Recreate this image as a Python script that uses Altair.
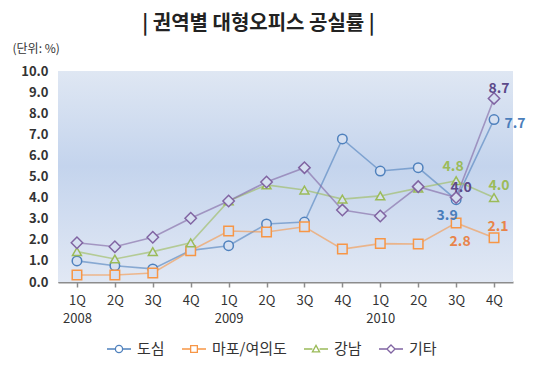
import altair as alt
import pandas as pd

quarters = ["1Q", "2Q", "3Q", "4Q"] * 3
years = ["2008"] * 4 + ["2009"] * 4 + ["2010"] * 4
series_names = ["도심", "마포/여의도", "강남", "기타"]
dosim = [1.0, 0.77, 0.62, 1.5, 1.72, 2.75, 2.84, 6.78, 5.26, 5.42, 3.9, 7.7]
mapo = [0.33, 0.33, 0.43, 1.48, 2.42, 2.37, 2.62, 1.56, 1.82, 1.8, 2.8, 2.1]
gangnam = [1.44, 1.09, 1.44, 1.86, 3.84, 4.6, 4.36, 3.93, 4.08, 4.45, 4.8, 4.0]
gita = [1.86, 1.67, 2.12, 3.02, 3.84, 4.74, 5.42, 3.41, 3.13, 4.52, 4.0, 8.7]
values = [dosim, mapo, gangnam, gita]

colors = ["#4f81bd", "#f79646", "#9bbb59", "#8064a2"]
label_colors = ["#4a7ebb", "#e8844a", "#9bbb59", "#5c4a8a"]
shapes = ["circle", "square", "triangle-up", "diamond"]
legend_paths = [
    "M-1,0 L-0.3,0 M0.3,0 L1,0 M-0.3,0 A0.3,0.3 0 1,0 0.3,0 A0.3,0.3 0 1,0 -0.3,0",
    "M-1,0 L-0.28,0 M0.28,0 L1,0 M-0.28,-0.28 L0.28,-0.28 L0.28,0.28 L-0.28,0.28 Z",
    "M-1,0 L-0.3,0 M0.3,0 L1,0 M0,-0.3 L0.3,0.24 L-0.3,0.24 Z",
    "M-1,0 L-0.34,0 M0.34,0 L1,0 M0,-0.34 L0.34,0 L0,0.34 L-0.34,0 Z",
]

cats = [f"{y} {q}" for y, q in zip(years, quarters)]
rows = []
for s, vals in zip(series_names, values):
    for c, v in zip(cats, vals):
        rows.append({"cat": c, "series": s, "value": v})
df = pd.DataFrame(rows)

# labels: last two quarters
label_offsets = {
    ("도심", 10): (-9, 16), ("도심", 11): (21, 4),
    ("마포/여의도", 10): (4, 19), ("마포/여의도", 11): (4, -11),
    ("강남", 10): (-3, -14), ("강남", 11): (5, -12),
    ("기타", 10): (5, -10), ("기타", 11): (5, -9),
}

FONT = "Noto Sans CJK KR"

x_enc = alt.X(
    "cat:N", sort=cats, title=None,
    scale=alt.Scale(paddingInner=0, paddingOuter=0),
    axis=alt.Axis(
        bandPosition=0, labelAngle=0, tickSize=5, tickColor="#8c8c8c",
        domainColor="#8c8c8c", domainWidth=2, tickWidth=1.5,
        labelPadding=7, labelFontSize=13, labelColor="#333333", labelFont=FONT,
        labelLineHeight=18, labelBaseline="top",
        labelExpr="indexof(datum.value,'1Q')>=0 ? [split(datum.value,' ')[1], split(datum.value,' ')[0]] : split(datum.value,' ')[1]",
    ),
)
y_enc = alt.Y(
    "value:Q", scale=alt.Scale(domain=[0, 10], nice=False),
    axis=alt.Axis(
        values=list(range(0, 11)), format=".1f", title="(단위: %)",
        titleAngle=0, titleAlign="left", titleBaseline="middle",
        titleX=-46, titleY=-23, titleFont=FONT, titleFontSize=12,
        titleFontWeight="normal", titleColor="#333333",
        labelFont=FONT, labelFontSize=13, labelFontWeight="bold",
        labelColor="#333333", labelPadding=10, ticks=False, domain=False,
        grid=True, gridDash=[1.5, 1], gridColor="#7f7f7f", gridWidth=1,
    ),
)
color_enc = alt.Color(
    "series:N", sort=series_names, title=None,
    scale=alt.Scale(domain=series_names, range=colors),
)

bg = alt.Chart(pd.DataFrame({"a": [0]})).mark_rect(
    color=alt.Gradient(
        gradient="linear",
        stops=[
            alt.GradientStop(color="#dfe7f3", offset=0),
            alt.GradientStop(color="#c4d4ed", offset=0.45),
            alt.GradientStop(color="#e1e8f4", offset=1),
        ],
        x1=0, x2=0, y1=0, y2=1,
    )
).encode(x=alt.value(0), x2=alt.value("width"), y=alt.value(0), y2=alt.value("height"))

base = alt.Chart(df)

lines = base.mark_line(strokeWidth=1.6, opacity=0.6).encode(
    x=x_enc, y=y_enc, color=color_enc
)

legend_layer = base.mark_point(strokeOpacity=0, fillOpacity=0, filled=False).encode(
    x=x_enc, y=y_enc, color=color_enc,
    shape=alt.Shape("series:N", sort=series_names, title=None,
                    scale=alt.Scale(domain=series_names, range=legend_paths)),
)

markers = []
for s, shp in zip(series_names, shapes):
    sz = 90 if shp != "diamond" else 130
    if shp == "triangle-up":
        sz = 80
    markers.append(
        base.transform_filter(alt.datum.series == s).mark_point(
            shape=shp, size=sz, strokeWidth=1.5, filled=False, fill="#d6e0f1", fillOpacity=1, opacity=1
        ).encode(x=x_enc, y=y_enc, color=color_enc)
    )

labels = []
for (s, idx), (dx, dy) in label_offsets.items():
    si = series_names.index(s)
    labels.append(
        base.transform_filter(
            (alt.datum.series == s) & (alt.datum.cat == cats[idx])
        ).mark_text(
            dx=dx, dy=dy, font=FONT, fontSize=14, fontWeight="bold",
            color=label_colors[si], baseline="middle", align="center",
        ).encode(x=x_enc, y=y_enc, text=alt.Text("value:Q", format=".1f"))
    )

chart = alt.layer(bg, lines, legend_layer, *markers, *labels).properties(
    width=455, height=211,
    autosize=alt.AutoSizeParams(type="none"),
    padding={"left": 50, "top": 63, "right": 29, "bottom": 80},
    title=alt.TitleParams(
        "| 권역별 대형오피스 공실률 |", font=FONT, fontSize=20, fontWeight="bold",
        color="#222222", anchor="middle", dx=-27, offset=8,
    ),
).configure_legend(
    orient="none", legendX=48, legendY=265, direction="horizontal",
    labelFont=FONT, labelFontSize=15, labelColor="#333333",
    symbolSize=576, symbolStrokeWidth=1.3, columnPadding=14, labelOffset=5,
    symbolOpacity=1,
).configure_view(stroke=None)

chart.save("out.html", embed_options={"renderer": "svg", "actions": False})
